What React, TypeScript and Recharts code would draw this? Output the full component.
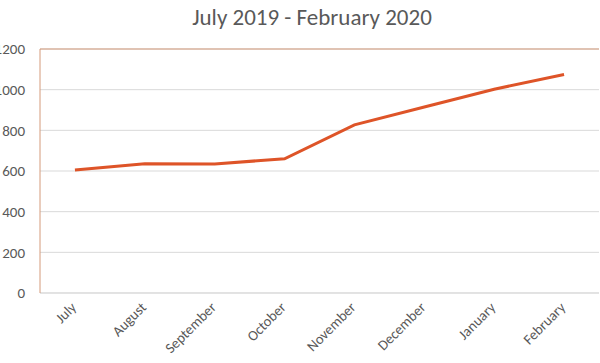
import React from 'react';
import { LineChart, Line, XAxis, YAxis, CartesianGrid, ReferenceLine } from 'recharts';

const months = ['July', 'August', 'September', 'October', 'November', 'December', 'January', 'February'];
const values = [605, 636, 635, 660, 827, 915, 1002, 1075];
const yTicks = [0, 200, 400, 600, 800, 1000, 1200];
const title = 'July 2019 - February 2020';

const data = months.map((m, i) => ({ month: m, value: values[i] }));

const font = 'Carlito, Lato, sans-serif';
const border = '#d49a7a';
const textColor = '#595959';

export default function App() {
  return (
    <div style={{ position: 'absolute', left: 0, top: 0, width: 600, height: 363, background: '#fff', overflow: 'hidden' }}>
      <div
        style={{
          position: 'absolute',
          left: 30,
          width: 564,
          top: 6,
          textAlign: 'center',
          fontFamily: font,
          fontSize: 23,
          lineHeight: '22px',
          color: textColor,
        }}
      >
        {title}
      </div>
      <LineChart width={600} height={363} data={data} margin={{ top: 49, right: 1, bottom: 0, left: 0 }}>
        <CartesianGrid vertical={false} stroke="#d9d9d9" strokeWidth={1} />
        <XAxis
          dataKey="month"
          scale="band"
          height={70}
          interval={0}
          axisLine={{ stroke: '#d9d9d9' }}
          tickLine={false}
          angle={-45}
          textAnchor="end"
          tickSize={0}
          tickMargin={8}
          dx={-5}
          tick={{ fill: textColor, fontSize: 14.5, fontFamily: font }}
        />
        <YAxis
          domain={[0, 1200]}
          ticks={yTicks}
          width={40}
          axisLine={{ stroke: border }}
          tickLine={false}
          tickSize={0}
          tickMargin={15}
          tick={{ fill: textColor, fontSize: 15, fontFamily: font }}
        />
        <YAxis yAxisId="r" orientation="right" width={0} domain={[0, 1200]} tick={false} tickLine={false} axisLine={{ stroke: border }} />
        <ReferenceLine y={1200} stroke={border} />
        <Line dataKey="value" stroke="#de5428" strokeWidth={3} dot={false} isAnimationActive={false} />
      </LineChart>
    </div>
  );
}
